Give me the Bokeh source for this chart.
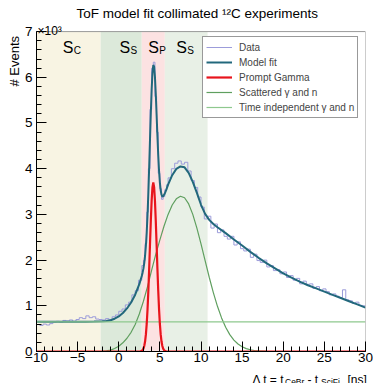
import math
import numpy as np
from bokeh.plotting import figure
from bokeh.layouts import column, row
from bokeh.models import Range1d, Legend, LegendItem, FixedTicker
from bokeh.core.properties import value
from bokeh.embed import file_html
from bokeh.resources import INLINE

FONT = "Liberation Sans"

# ---------------- data ----------------
x_min, x_max = -10, 30
y_max = 7000

region_lo = [-10.0, -2.2, 2.8, 5.6]
region_hi = [-2.2, 2.8, 5.6, 10.8]
region_colors = ["#f8f4e3", "#dce9da", "#fce2e2", "#e8f0e6"]
region_subs = ["C", "S", "P", "S"]
region_label_x = [-6.8, 0.1, 3.6, 7.0]

# histogram bins: 0.4 ns, 0.2 ns around the prompt peak
bin_edges = np.round(np.concatenate([
    np.arange(-10.0, 2.8, 0.4),
    np.arange(2.8, 6.0, 0.2),
    np.arange(6.0, 30.0001, 0.4)]), 3)

data_counts = [
    590, 570, 600, 580, 610, 640, 660, 640, 680, 670,
    690, 660, 700, 740, 720, 780, 740, 760, 710, 700,
    690, 720, 700, 760, 800, 880, 930, 1020, 1080, 1240,
    1330, 1560,
    1880, 1990, 2360, 3050, 4000, 5300, 6200, 6330, 5580, 4800,
    3900, 3560, 3330, 3390, 3540, 3650,
    3800, 4000, 4120, 4170, 4100, 4140, 3950, 3740, 3590, 3380,
    3160, 2900, 2960, 2700, 2790, 2600, 2660, 2520, 2460, 2520,
    2330, 2400, 2250, 2200, 2240, 2060, 2130, 1990, 1950, 2000,
    1850, 1880, 1770, 1790, 1700, 1740, 1620, 1660, 1560, 1600,
    1480, 1540, 1470, 1480, 1380, 1420, 1330, 1370, 1310, 1240,
    1260, 1210, 1180, 1350, 1130, 1110, 1050, 1080, 1010, 1000,
]

model_t = [-10, -6, -4, -3, -2, -1.5, -1, -0.5, 0, 0.5, 1, 1.5, 2, 2.5,
           2.8, 2.9, 3.0, 3.1, 3.2, 3.3, 3.4, 3.5, 3.6, 3.7, 3.8, 3.9,
           4.0, 4.1, 4.2, 4.3, 4.4, 4.5, 4.6, 4.7, 4.8, 4.9, 5.0, 5.1,
           5.2, 5.3, 5.4, 5.6, 5.8, 6.0, 6.5, 7, 7.5, 8, 8.5, 9, 9.5,
           10, 10.5, 11, 11.5, 12, 13, 14, 15, 16, 17, 18, 19, 20, 21,
           22, 23, 24, 25, 26, 27, 28, 29, 30]
model_y = [650, 650, 652, 655, 660, 668, 685, 718, 768, 842, 942, 1072, 1242, 1472,
           1652, 1725, 1813, 1934, 2096, 2315, 2609, 2993, 3476, 4036, 4637, 5225,
           5734, 6095, 6268, 6234, 6011, 5644, 5191, 4726, 4301, 3954, 3697, 3526,
           3431, 3392, 3395, 3457, 3549, 3650, 3858, 3995, 4050, 4030, 3910, 3710, 3470,
           3210, 3010, 2880, 2790, 2720, 2590, 2450, 2320, 2180, 2050, 1930, 1820, 1710, 1615,
           1530, 1450, 1380, 1310, 1240, 1170, 1100, 1030, 960]

prompt_t = [-10, 2.6, 2.7, 2.8, 2.9, 3.0, 3.1, 3.2, 3.3, 3.4, 3.5, 3.6, 3.7, 3.8,
            3.9, 4.0, 4.1, 4.2, 4.3, 4.4, 4.5, 4.6, 4.7, 4.8, 4.9, 5.0, 5.1,
            5.2, 5.3, 5.4, 5.5, 5.6, 5.7, 5.8, 30]
prompt_y = [0, 3, 6, 14, 31, 63, 120, 218, 373, 603, 923, 1334, 1822, 2351,
            2867, 3304, 3596, 3700, 3596, 3304, 2867, 2351, 1822, 1334, 923, 603, 373,
            218, 120, 63, 31, 14, 6, 3, 0]

scat_t = [-10, -3, -2, -1.5, -1, -0.5, 0, 0.5, 1, 1.5, 2, 2.5, 3, 3.5, 4, 4.5,
          5, 5.5, 6, 6.5, 7, 7.5, 8, 8.5, 9, 9.5, 10, 10.5, 11, 11.5, 12,
          12.5, 13, 13.5, 14, 14.5, 15, 15.5, 16, 16.5, 17, 18, 19, 30]
scat_y = [0, 0, 4, 12, 30, 65, 115, 190, 290, 420, 590, 820, 1100, 1420, 1780, 2127,
          2444, 2741, 3000, 3205, 3341, 3398, 3365, 3229, 3000, 2701, 2355, 1988, 1625, 1289, 989,
          735, 529, 369, 250, 163, 103, 64, 38, 22, 12, 3, 0, 0]

const_t = [-10, 30]
const_y = [650, 650]

x_ticks = [-10, -5, 0, 5, 10, 15, 20, 25, 30]
y_ticks = [0, 1000, 2000, 3000, 4000, 5000, 6000, 7000]

title_text = "ToF model fit collimated \u00b9\u00b2C experiments"

# ---------------- main figure ----------------
MAIN_H = 367
MAIN_W = 353
px_per_unit = 319.0 / y_max          # 7000 counts span 319 px
y_top = y_max + 31 / px_per_unit     # room above the frame top for title

p = figure(width=MAIN_W, height=MAIN_H, x_range=Range1d(x_min, x_max), y_range=Range1d(0, y_top),
           output_backend="svg", toolbar_location=None,
           min_border_left=16, min_border_right=8, min_border_top=0, min_border_bottom=16)
p.xgrid.visible = False
p.ygrid.visible = False
p.outline_line_color = None
p.background_fill_color = "white"
p.border_fill_color = "white"

p.quad(left=region_lo, right=region_hi, bottom=0, top=y_max, fill_color=region_colors,
       line_color=None)

p.text(x=region_label_x, y=y_max - 16 / px_per_unit, text=["S"] * 4, text_font=value(FONT),
       text_font_size="16px", text_color="black", text_baseline="alphabetic", text_align="left")
p.text(x=region_label_x, y=y_max - 19 / px_per_unit, text=region_subs, x_offset=11,
       text_font=value(FONT), text_font_size="10px", text_color="black",
       text_baseline="alphabetic", text_align="left")

# histogram outline
hx, hy = [], []
for i, c in enumerate(data_counts):
    hx += [bin_edges[i], bin_edges[i + 1]]
    hy += [c, c]
r_data = p.line(hx, hy, line_color="#9c9cda", line_width=1)
r_model = p.line(model_t, model_y, line_color="#22687c", line_width=2)
r_scat = p.line(scat_t, scat_y, line_color="#5f9f5f", line_width=1.2)
r_const = p.line(const_t, const_y, line_color="#8ec88e", line_width=1.2)
r_prompt = p.line(prompt_t, prompt_y, line_color="#e8141c", line_width=2.2)

# frame top / right edges
p.line([x_min, x_max, x_max], [y_max, y_max, 0], line_color="#9a9a9a", line_width=1)

# title and exponent (inside the frame, above y_max)
p.text(x=[(x_min + x_max) / 2 - 0.45], y=[y_max + 18.5 / px_per_unit], text=[title_text],
       text_font=value(FONT), text_font_size="13.5px", text_color="black",
       text_align="center", text_baseline="middle")
p.text(x=[x_min], y=[y_max + 1 / px_per_unit], text=["\u00d710\u00b3"], x_offset=1,
       text_font=value(FONT), text_font_size="12px", text_color="black",
       text_align="left", text_baseline="alphabetic")

# axes
for ax in (p.xaxis[0], p.yaxis[0]):
    ax.major_tick_in = 10
    ax.major_tick_out = 0
    ax.minor_tick_in = 5
    ax.minor_tick_out = 0
    ax.axis_line_color = "black"
    ax.major_tick_line_color = "black"
    ax.minor_tick_line_color = "black"
    ax.major_label_text_font = FONT
    ax.major_label_text_font_size = "13.5px"
    ax.major_label_text_color = "black"
p.xaxis.major_label_standoff = 1
p.yaxis.major_label_standoff = 4
p.yaxis.bounds = (0, y_max)
p.xaxis.ticker = FixedTicker(ticks=x_ticks, minor_ticks=list(range(-10, 31)))
p.yaxis.ticker = FixedTicker(ticks=y_ticks, minor_ticks=list(range(0, 7001, 200)))
p.xaxis.major_label_overrides = {-10: "\u221210", -5: "\u22125"}
p.yaxis.major_label_overrides = {v: str(v // 1000) for v in y_ticks}

# legend
legend = Legend(items=[
    LegendItem(label="Data", renderers=[r_data]),
    LegendItem(label="Model fit", renderers=[r_model]),
    LegendItem(label="Prompt Gamma", renderers=[r_prompt]),
    LegendItem(label="Scattered \u03b3 and n", renderers=[r_scat]),
    LegendItem(label="Time independent \u03b3 and n", renderers=[r_const]),
], location=(166, 233))
legend.margin = 0
legend.padding = 3
legend.spacing = 1
legend.glyph_width = 26
legend.glyph_height = 14
legend.label_height = 14
legend.label_standoff = 7
legend.label_text_font = FONT
legend.label_text_font_size = "10px"
legend.border_line_color = "#333333"
legend.border_line_width = 1
legend.background_fill_color = "white"
legend.background_fill_alpha = 1
p.add_layout(legend)

# ---------------- left strip: y axis title ----------------
left = figure(width=20, height=MAIN_H, x_range=Range1d(0, 20), y_range=Range1d(0, MAIN_H),
              output_backend="svg", toolbar_location=None, min_border=0,
              x_axis_type=None, y_axis_type=None)
left.outline_line_color = None
left.text(x=[14], y=[MAIN_H - 37], text=["# Events"], angle=math.pi / 2,
          text_font=value(FONT), text_font_size="13px", text_color="black",
          text_align="right", text_baseline="middle")

# ---------------- bottom strip: x axis title ----------------
BOT_H = 383 - MAIN_H
BOT_W = 20 + MAIN_W
bottom = figure(width=BOT_W, height=BOT_H, x_range=Range1d(0, BOT_W), y_range=Range1d(0, BOT_H),
                output_backend="svg", toolbar_location=None, min_border=0,
                x_axis_type=None, y_axis_type=None)
bottom.outline_line_color = None
main_parts = ["\u0394 t = t", "- t", "[ns]"]
main_x = [252, 307, 347]
sub_parts = ["CeBr", "SciFi"]
sub_x = [284.5, 320.5]
bottom.text(x=main_x, y=BOT_H - 12.2, text=main_parts, text_font=value(FONT), text_font_size="12px",
            text_color="black", text_align="left", text_baseline="alphabetic")
bottom.text(x=sub_x, y=BOT_H - 14.2, text=sub_parts, text_font=value(FONT), text_font_size="8.5px",
            text_color="black", text_align="left", text_baseline="alphabetic")

layout = column(row(left, p, spacing=0), bottom, spacing=0)
open("out.html", "w").write(file_html(layout, INLINE))
